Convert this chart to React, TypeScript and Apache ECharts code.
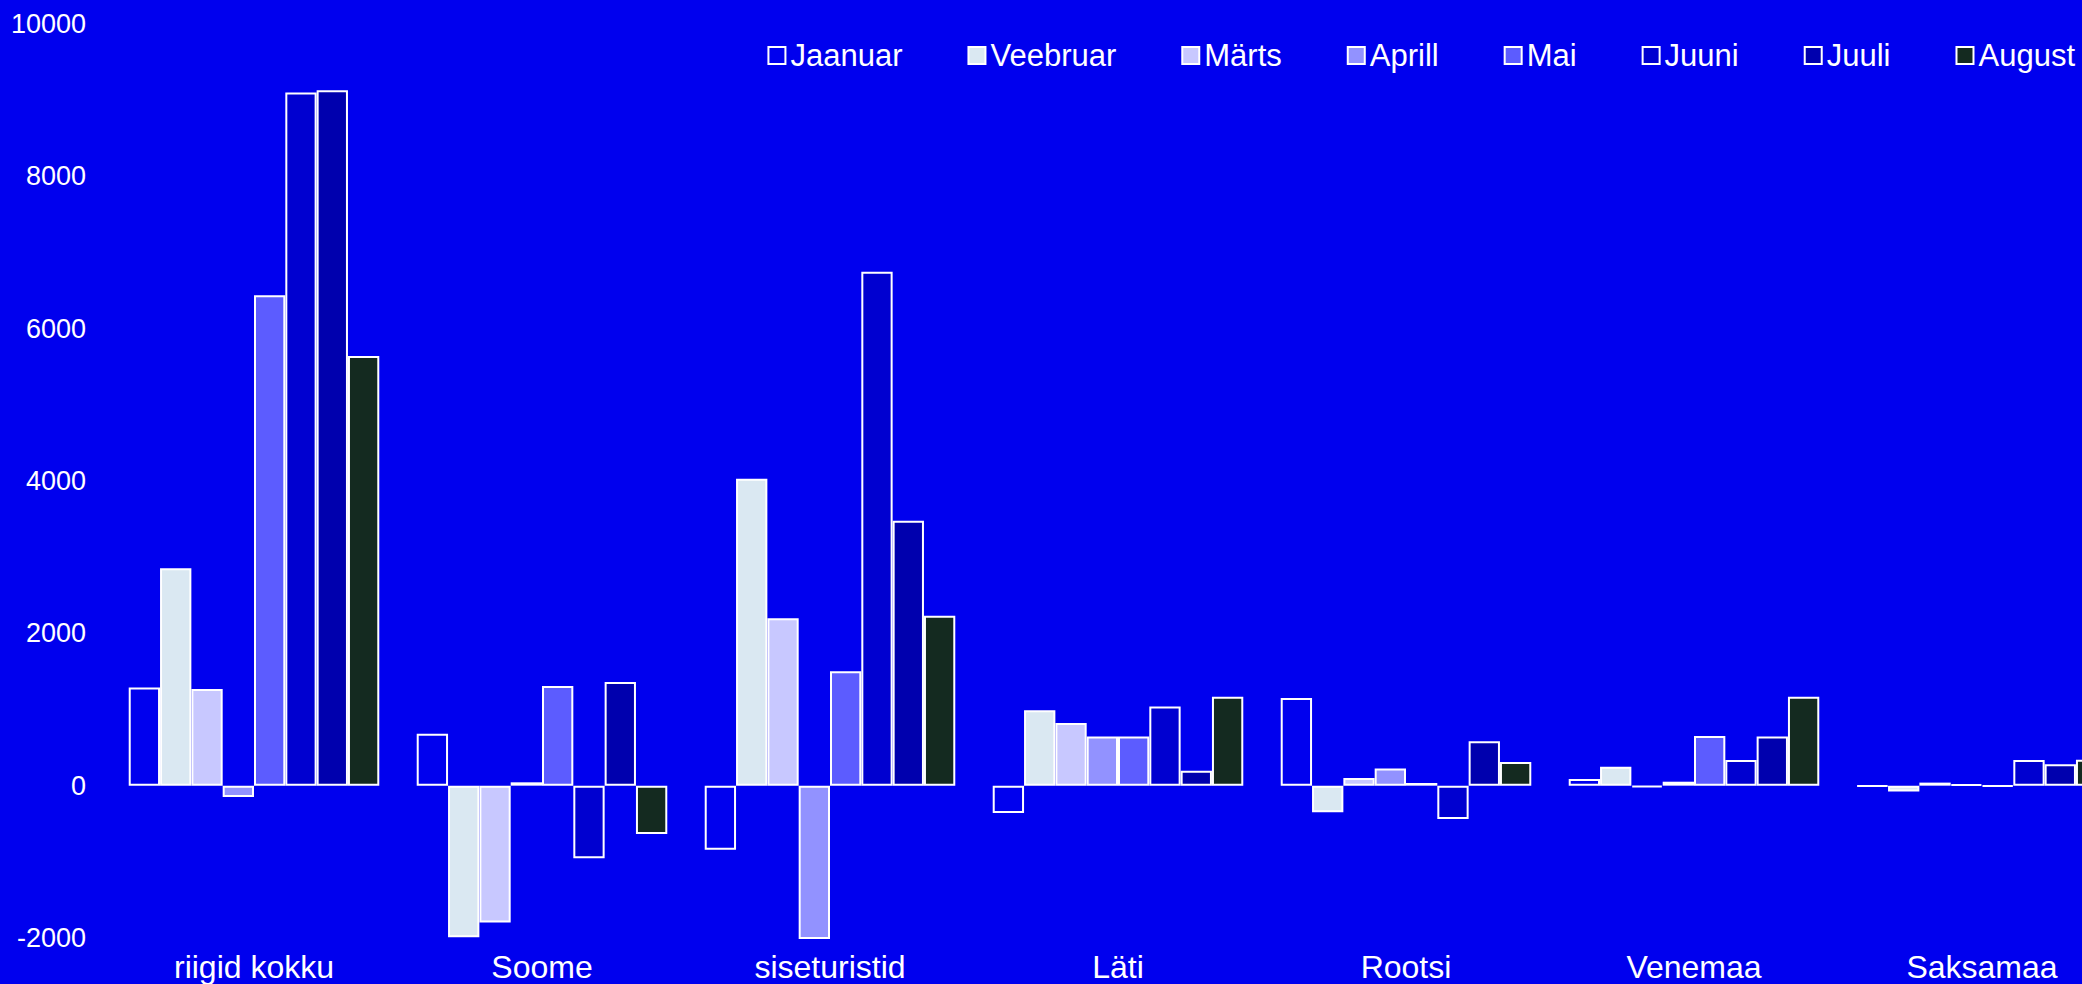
import React, { useEffect, useRef } from "react";
import * as echarts from "echarts";

const categories = ["riigid kokku", "Soome", "siseturistid", "Läti", "Rootsi", "Venemaa", "Saksamaa"];
const seriesNames = ["Jaanuar", "Veebruar", "Märts", "Aprill", "Mai", "Juuni", "Juuli", "August"];
const seriesColors = ["#0000EE", "#DAE8F2", "#C8C8FF", "#9292FF", "#5C5CFF", "#0000D0", "#0000AE", "#142A20"];

const jaanuar = [1290, 680, -840, -360, 1150, 87, -10];
const veebruar = [2855, -1990, 4030, 990, -350, 249, -75];
const marts = [1270, -1795, 2197, 822, 100, -22, 40];
const aprill = [-150, 44, -2020, 647, 227, 52, 15];
const mai = [6440, 1308, 1502, 647, 35, 652, -12];
const juuni = [9100, -954, 6748, 1041, -437, 337, 338];
const juuli = [9130, 1360, 3478, 197, 582, 647, 280];
const august = [5640, -634, 2230, 1168, 310, 1168, 341];

const seriesValues = [jaanuar, veebruar, marts, aprill, mai, juuni, juuli, august];

const yMin = -2000;
const yMax = 10000;
const yInterval = 2000;

const FONT = "'Liberation Sans', Arial, Helvetica, sans-serif";

// The original chart is wider than the window; its right side is cut off.
const CHART_WIDTH = 2140;

export default function App() {
  const ref = useRef<HTMLDivElement>(null);

  useEffect(() => {
    if (!ref.current) return;
    const chart = echarts.init(ref.current, undefined, { renderer: "svg" });
    chart.setOption({
      animation: false,
      backgroundColor: "#0000EE",
      textStyle: { fontFamily: FONT },
      legend: {
        data: seriesNames,
        right: 7 + (CHART_WIDTH - 2082),
        top: 40,
        padding: 0,
        itemWidth: 17,
        itemHeight: 17,
        itemGap: 65,
        icon: "rect",
        itemStyle: { borderColor: "#FFFFFF", borderWidth: 2 },
        textStyle: { color: "#FFFFFF", fontSize: 31, fontFamily: FONT },
      },
      grid: { left: 110, top: 24, width: 2016, height: 914, containLabel: false },
      xAxis: {
        type: "category",
        data: categories,
        position: "bottom",
        axisLine: { show: false, onZero: false },
        axisTick: { show: false },
        splitLine: { show: false },
        axisLabel: { color: "#FFFFFF", fontSize: 32, margin: 13, fontFamily: FONT, interval: 0 },
      },
      yAxis: {
        type: "value",
        min: yMin,
        max: yMax,
        interval: yInterval,
        axisLine: { show: false },
        axisTick: { show: false },
        splitLine: { show: false },
        axisLabel: {
          color: "#FFFFFF",
          fontSize: 27,
          margin: 24,
          fontFamily: FONT,
          formatter: (v: number) => String(v),
        },
      },
      series: seriesNames.map((name, i) => ({
        name,
        type: "bar",
        data: seriesValues[i],
        barGap: "0%",
        barCategoryGap: "13%",
        clip: true,
        itemStyle: { color: seriesColors[i], borderColor: "#FFFFFF", borderWidth: 2 },
      })),
    });
    return () => chart.dispose();
  }, []);

  return (
    <div
      style={{
        position: "absolute",
        left: 0,
        top: 0,
        width: 2082,
        height: 984,
        overflow: "hidden",
        background: "#0000EE",
      }}
    >
      <div ref={ref} style={{ width: CHART_WIDTH, height: 984 }} />
    </div>
  );
}
